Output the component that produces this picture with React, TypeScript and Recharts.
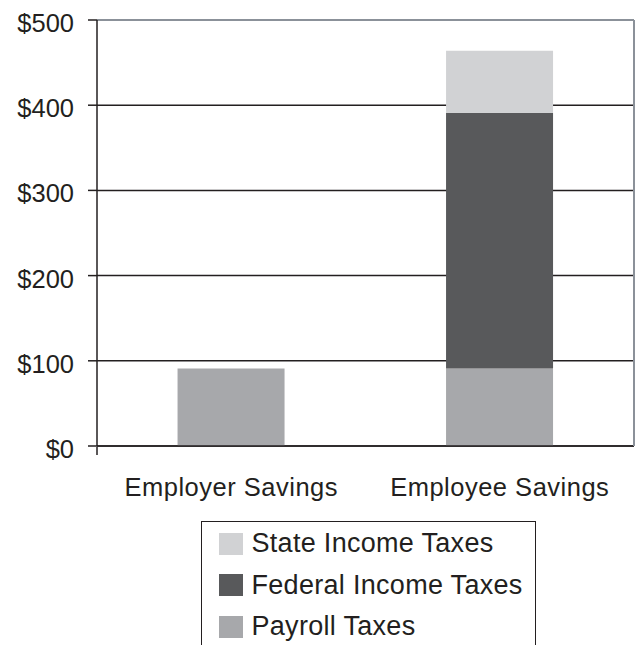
import {
  BarChart,
  Bar,
  XAxis,
  YAxis,
  CartesianGrid,
  ReferenceLine,
  Legend,
} from "recharts";

const categories = ["Employer Savings", "Employee Savings"];
const payrollTaxes = [91, 91];
const federalIncomeTaxes = [0, 300];
const stateIncomeTaxes = [0, 73];
const yTicks = [0, 100, 200, 300, 400, 500];
const edgeTicks = [0, 1, 2];

const seriesKeys = ["payroll", "federal", "state"];
const seriesNames = ["Payroll Taxes", "Federal Income Taxes", "State Income Taxes"];
const seriesColors = ["#a7a8ab", "#58595b", "#d1d2d4"];

const ink = "#231f20";
const frame = "#8b9199";
const font = "'Liberation Sans', Arial, sans-serif";

const chartData = categories.map((name, i) => ({
  name,
  payroll: payrollTaxes[i],
  federal: federalIncomeTaxes[i],
  state: stateIncomeTaxes[i],
}));

function CategoryTick(props: any) {
  const { x, y, payload } = props;
  return (
    <text
      x={x}
      y={y}
      dy={50}
      textAnchor="middle"
      fill={ink}
      fontSize={25.5}
      letterSpacing={0.5}
      fontFamily={font}
    >
      {payload.value}
    </text>
  );
}

function ValueTick(props: any) {
  const { x, y, payload } = props;
  return (
    <text x={x} y={y} dy={12} textAnchor="end" fill={ink} fontSize={25.5} fontFamily={font}>
      ${payload.value}
    </text>
  );
}

function LegendBox() {
  const order = [2, 1, 0];
  return (
    <div
      style={{
        border: `1.5px solid ${ink}`,
        boxSizing: "border-box",
        width: 335,
        height: 140,
        paddingTop: 1,
        fontFamily: font,
        fontSize: 27,
        letterSpacing: 0.3,
        color: ink,
      }}
    >
      {order.map((i) => (
        <div key={seriesKeys[i]} style={{ display: "flex", alignItems: "center", height: 41.5 }}>
          <span
            style={{
              display: "inline-block",
              width: 24,
              height: 22,
              marginLeft: 16.5,
              marginRight: 9,
              background: seriesColors[i],
            }}
          />
          <span>{seriesNames[i]}</span>
        </div>
      ))}
    </div>
  );
}

export default function App() {
  return (
    <div style={{ position: "absolute", left: 0, top: 0, width: 636, height: 645, overflow: "hidden", background: "#fff" }}>
      <BarChart
        width={636}
        height={645}
        data={chartData}
        margin={{ top: 20, right: 0, left: 0, bottom: 197 }}
        barCategoryGap="30%"
      >
        <CartesianGrid horizontal vertical={false} stroke={ink} strokeWidth={1.5} />
        <ReferenceLine y={500} stroke={frame} strokeWidth={2} ifOverflow="visible" />
        <XAxis
          dataKey="name"
          height={1}
          tickLine={false}
          tickSize={0}
          tickMargin={0}
          axisLine={{ stroke: ink, strokeWidth: 1.5 }}
          tick={<CategoryTick />}
        />
        <XAxis
          xAxisId="edges"
          type="number"
          domain={[0, 2]}
          allowDataOverflow
          ticks={edgeTicks}
          height={1}
          tickSize={8}
          tickLine={{ stroke: ink, strokeWidth: 1.5 }}
          axisLine={false}
          tickFormatter={() => ""}
        />
        <YAxis
          width={97}
          domain={[0, 500]}
          ticks={yTicks}
          tickSize={9}
          tickMargin={14}
          tickLine={{ stroke: ink, strokeWidth: 1.5 }}
          axisLine={{ stroke: ink, strokeWidth: 1.5 }}
          tick={<ValueTick />}
        />
        <YAxis
          yAxisId="right"
          orientation="right"
          width={2}
          domain={[0, 500]}
          allowDataOverflow
          tick={false}
          tickLine={false}
          axisLine={{ stroke: frame, strokeWidth: 2 }}
        />
        {seriesKeys.map((key, i) => (
          <Bar
            key={key}
            dataKey={key}
            name={seriesNames[i]}
            stackId="taxes"
            fill={seriesColors[i]}
            isAnimationActive={false}
          />
        ))}
        <Legend
          verticalAlign="middle"
          align="center"
          layout="horizontal"
          width={335}
          content={<LegendBox />}
          wrapperStyle={{ left: 201, top: 521, width: 335, height: 140 }}
        />
      </BarChart>
    </div>
  );
}
